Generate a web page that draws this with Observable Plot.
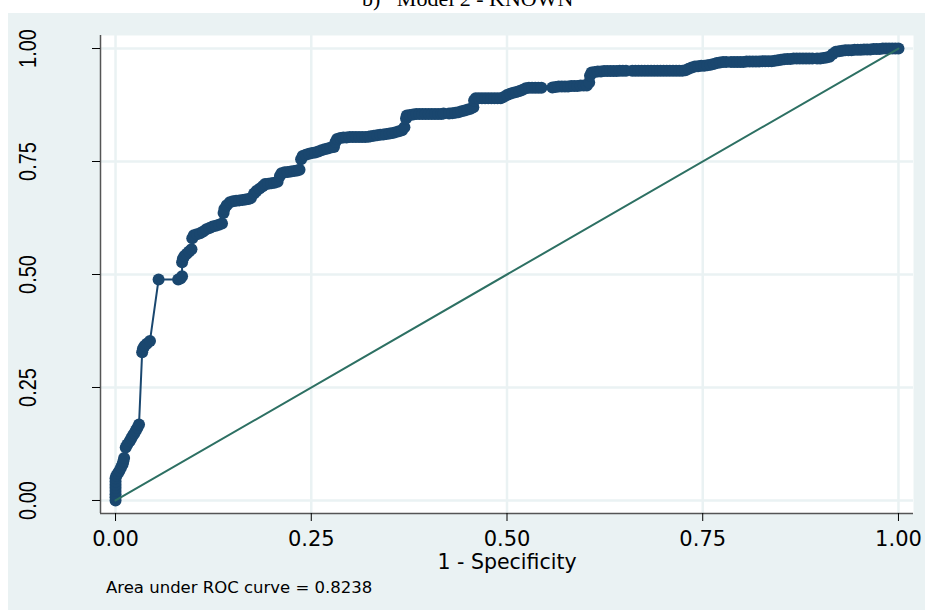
<!DOCTYPE html>
<html><head><meta charset="utf-8">
<script src="https://cdn.jsdelivr.net/npm/d3@7"></script>
<script src="https://cdn.jsdelivr.net/npm/@observablehq/plot@0.6"></script>
<style>
html,body{margin:0;padding:0;background:#fff;}
#wrap{position:relative;width:925px;height:610px;overflow:hidden;}
#title{position:absolute;left:0;top:0;width:925px;height:13px;overflow:hidden;}
#title span{position:absolute;left:362px;top:-12px;font-family:"Liberation Serif",serif;font-size:22px;line-height:22px;white-space:pre;color:#000;}
#chart{position:absolute;left:8px;top:13px;}
</style></head><body>
<div id="wrap"><div id="title"><span>b)   Model 2 - KNOWN</span></div><div id="chart"></div></div>
<script>
// ROC curve points (1 - specificity, sensitivity)
const fpr = [
  0,0,0,0,0,0,0,0,0.001,0.003,
  0.005,0.007,0.009,0.010,0.011,
  0.013,0.015,0.018,0.020,0.022,0.024,0.026,0.028,0.030,
  0.034,0.035,0.037,0.040,0.044,
  0.055,0.080,0.083,0.085,
  0.085,0.086,0.088,0.091,0.094,0.097,
  0.098,0.100,0.104,0.108,0.112,0.116,0.120,0.124,0.128,0.132,0.136,
  0.138,0.139,0.142,0.146,0.150,0.154,0.158,0.162,0.166,0.170,0.173,
  0.177,0.180,0.184,0.188,0.191,0.195,0.199,0.203,0.207,
  0.210,0.212,0.216,0.220,0.224,0.228,0.232,0.235,
  0.237,0.239,0.243,0.247,0.251,0.255,0.259,0.263,0.267,0.271,0.275,0.279,
  0.281,0.283,0.287,0.291,0.295,0.299,0.303,0.307,0.311,0.315,0.319,0.323,0.326,
  0.330,0.334,0.338,0.342,0.346,0.350,0.354,0.358,0.362,0.366,0.369,
  0.371,0.372,0.376,0.380,0.384,0.388,0.392,0.396,0.400,0.404,0.408,0.412,0.416,0.419,
  0.426,0.430,0.434,0.438,0.442,0.446,0.450,0.454,0.457,
  0.458,0.460,0.464,0.468,0.472,0.476,0.480,0.484,0.488,0.492,0.496,0.500,0.504,0.508,0.512,0.516,0.520,0.524,0.528,0.532,0.536,0.540,0.544,
  0.558,0.562,0.566,0.570,0.574,0.578,0.582,0.586,0.590,0.594,0.598,0.602,0.605,
  0.606,0.608,0.612,0.616,0.620,0.624,0.628,0.632,0.636,0.640,0.644,0.648,0.652,
  0.660,0.664,0.668,0.672,0.676,0.680,0.684,0.688,0.692,0.696,0.700,0.704,0.708,0.712,0.716,0.720,0.724,0.728,
  0.732,0.736,0.740,0.744,0.748,0.752,0.756,0.760,0.764,0.768,0.772,0.776,0.780,
  0.786,0.790,0.794,0.798,0.802,0.806,0.810,0.814,0.818,0.822,0.826,0.830,0.834,0.838,0.842,0.846,0.850,0.854,0.858,0.862,0.866,0.870,0.874,0.878,0.882,0.886,0.890,
  0.896,0.900,0.904,0.908,0.912,0.916,0.920,0.924,0.928,0.932,0.936,0.940,0.944,0.948,0.952,0.956,0.960,0.964,0.968,0.972,0.976,0.980,0.984,0.988,0.992,0.996,1
];
const tpr = [
  0,0.007,0.014,0.021,0.028,0.035,0.042,0.049,0.055,0.060,
  0.066,0.073,0.080,0.087,0.094,
  0.117,0.124,0.131,0.137,0.143,0.149,0.155,0.161,0.168,
  0.328,0.336,0.342,0.347,0.353,
  0.489,0.489,0.491,0.496,
  0.527,0.535,0.541,0.546,0.551,0.556,
  0.580,0.587,0.589,0.591,0.595,0.600,0.603,0.606,0.608,0.610,0.613,
  0.636,0.645,0.653,0.660,0.662,0.663,0.664,0.665,0.666,0.667,0.669,
  0.679,0.685,0.690,0.695,0.700,0.701,0.702,0.703,0.705,
  0.718,0.724,0.726,0.727,0.728,0.729,0.730,0.732,
  0.755,0.762,0.765,0.767,0.769,0.770,0.772,0.775,0.777,0.779,0.781,0.782,
  0.793,0.800,0.802,0.803,0.803,0.804,0.804,0.804,0.804,0.804,0.804,0.805,0.806,
  0.807,0.808,0.809,0.810,0.811,0.812,0.813,0.815,0.817,0.819,0.826,
  0.845,0.852,0.853,0.854,0.855,0.855,0.855,0.855,0.855,0.855,0.855,0.855,0.855,0.856,
  0.856,0.857,0.858,0.859,0.861,0.863,0.865,0.867,0.870,
  0.885,0.890,0.890,0.890,0.890,0.890,0.890,0.890,0.890,0.890,0.893,0.897,0.900,0.902,0.904,0.906,0.909,0.912,0.913,0.913,0.913,0.913,0.913,
  0.914,0.915,0.916,0.916,0.916,0.916,0.917,0.917,0.917,0.918,0.918,0.918,0.925,
  0.940,0.947,0.948,0.949,0.949,0.950,0.950,0.950,0.950,0.950,0.951,0.951,0.951,
  0.951,0.951,0.951,0.951,0.951,0.951,0.951,0.951,0.951,0.951,0.951,0.951,0.951,0.951,0.951,0.951,0.951,0.952,
  0.955,0.958,0.960,0.961,0.962,0.962,0.963,0.964,0.966,0.968,0.969,0.970,0.970,
  0.970,0.970,0.970,0.970,0.970,0.971,0.971,0.971,0.971,0.971,0.972,0.972,0.972,0.972,0.973,0.974,0.975,0.976,0.977,0.977,0.978,0.978,0.978,0.978,0.978,0.978,0.978,
  0.978,0.978,0.979,0.980,0.982,0.988,0.993,0.994,0.995,0.996,0.996,0.996,0.997,0.997,0.997,0.998,0.998,0.998,0.999,0.999,0.999,1,1,1,1,1,1
];
// reference (chance) line
const refX = [0, 1];
const refY = [0, 1];
// axes
const xTicks = [0, 0.25, 0.5, 0.75, 1];
const yTicks = [0, 0.25, 0.5, 0.75, 1];
const xDomain = [-0.0192, 1.0192];
const yDomain = [-0.0288, 1.0288];
const xTitle = "1 - Specificity";
const caption = "Area under ROC curve = 0.8238";

const navy = "#1a476f", green = "#2d7063", gridColor = "#eaf2f3", axisColor = "#555";
const roc = fpr.map((f, i) => ({fpr: f, tpr: tpr[i]}));
const diag = refX.map((x, i) => ({x, y: refY[i]}));
const fmt = d3.format(".2f");

const chart = Plot.plot({
  width: 917, height: 597,
  marginLeft: 92, marginRight: 12, marginTop: 22, marginBottom: 97,
  x: {domain: xDomain},
  y: {domain: yDomain},
  style: {background: "#eaf2f3", fontFamily: "DejaVu Sans", color: "#000", overflow: "visible"},
  marks: [
    Plot.frame({fill: "white", stroke: null}),
    Plot.gridX(xTicks, {stroke: gridColor, strokeOpacity: 1, strokeWidth: 2.5}),
    Plot.gridY(yTicks, {stroke: gridColor, strokeOpacity: 1, strokeWidth: 2.5}),
    Plot.ruleX([xDomain[0]], {stroke: axisColor, strokeWidth: 1.5}),
    Plot.ruleY([yDomain[0]], {stroke: axisColor, strokeWidth: 1.5}),
    Plot.axisX(xTicks, {tickSize: 8, tickPadding: 10, fontSize: 21, tickFormat: fmt, label: null}),
    Plot.axisY(yTicks, {tickSize: 8, tickFormat: () => "", label: null}),
    Plot.text(yTicks, {y: d => d, text: d => fmt(d), frameAnchor: "left", dx: -72, rotate: -90,
      textAnchor: "middle", lineAnchor: "middle", fontSize: 20, fontFamily: "Liberation Sans"}),
    Plot.text([xTitle], {frameAnchor: "bottom", dy: 41, lineAnchor: "top", fontSize: 20.5}),
    Plot.text([caption], {frameAnchor: "bottom-left", dx: 5.5, dy: 68, lineAnchor: "top", textAnchor: "start", fontSize: 16.5}),
    Plot.line(roc, {x: "fpr", y: "tpr", stroke: navy, strokeWidth: 2}),
    Plot.dot(roc, {x: "fpr", y: "tpr", r: 6, fill: navy, stroke: null}),
    Plot.line(diag, {x: "x", y: "y", stroke: green, strokeWidth: 2})
  ]
});
chart.querySelectorAll("text[transform*='rotate(-90)']").forEach(t => {
  t.setAttribute("transform", t.getAttribute("transform") + " scale(1,1.2)");
});
document.getElementById("chart").appendChild(chart);
</script>
</body></html>
